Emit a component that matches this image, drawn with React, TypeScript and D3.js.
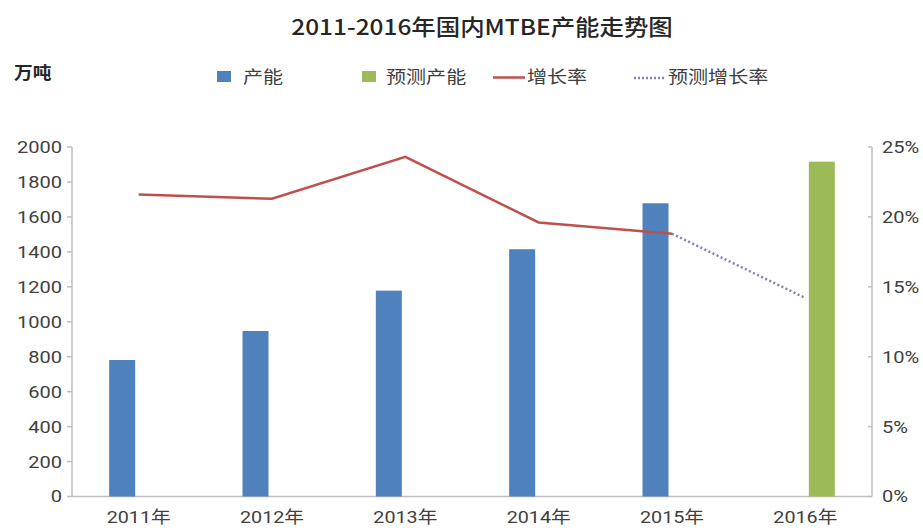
import React from "react";
import * as d3 from "d3";

const years = ["2011年", "2012年", "2013年", "2014年", "2015年", "2016年"];
const capacity: (number | null)[] = [781, 947, 1178, 1415, 1678, null];
const forecastCapacity: (number | null)[] = [null, null, null, null, null, 1916];
const growth: (number | null)[] = [21.6, 21.3, 24.3, 19.6, 18.8, null];
const forecastGrowth: (number | null)[] = [null, null, null, null, 18.8, 14.2];
const leftTicks = [0, 200, 400, 600, 800, 1000, 1200, 1400, 1600, 1800, 2000];
const rightTicks = [0, 5, 10, 15, 20, 25];

const W = 923;
const H = 528;
const M = { left: 72, right: 872, top: 147, bottom: 496.5 };
const FONT = "Roboto, 'Noto Sans CJK SC', 'Noto Sans', sans-serif";
const CJK = "'Noto Sans CJK SC', sans-serif";
const TXT = "#404040";
const SX = 1.18;

function T(props: {
  x: number;
  y: number;
  anchor?: "start" | "middle" | "end";
  size: number;
  fill?: string;
  weight?: number;
  family?: string;
  sx?: number;
  dy?: string;
  children: React.ReactNode;
}) {
  const s = props.sx ?? SX;
  return (
    <g transform={`translate(${props.x},${props.y}) scale(${s},1)`}>
      <text
        x={0}
        y={0}
        dy={props.dy}
        textAnchor={props.anchor ?? "start"}
        fontSize={props.size}
        fill={props.fill ?? TXT}
        fontWeight={props.weight ?? 400}
        fontFamily={props.family ?? FONT}
      >
        {props.children}
      </text>
    </g>
  );
}

export default function App() {
  const x = d3.scaleBand<string>().domain(years).range([M.left, M.right]);
  const sub = d3.scaleBand<string>().domain(["a", "b"]).range([-33, 33]);
  const yL = d3.scaleLinear().domain([0, 2000]).range([M.bottom, M.top]);
  const yR = d3.scaleLinear().domain([0, 25]).range([M.bottom, M.top]);
  const cx = (d: string) => (x(d) as number) + x.bandwidth() / 2;
  const bw = 26;
  const subC = (k: string) => (sub(k) as number) + sub.bandwidth() / 2;

  const line = d3
    .line<[string, number | null]>()
    .defined((d) => d[1] != null)
    .x((d) => cx(d[0]))
    .y((d) => yR(d[1] as number));

  const gPairs = years.map((y, i) => [y, growth[i]] as [string, number | null]);
  const fPairs = years.map((y, i) => [y, forecastGrowth[i]] as [string, number | null]);

  return (
    <svg width={W} height={H} style={{ position: "absolute", left: 0, top: 0, background: "#fff" }} fontFamily={FONT}>
      <rect width={W} height={H} fill="#fff" />
      <T x={482} y={35} anchor="middle" size={22} fill="#262626" family={CJK} weight={500} sx={1.11}>
        2011-2016年国内MTBE产能走势图
      </T>
      <T x={14} y={79} size={17} weight={700} fill="#262626" family={CJK} sx={1.1}>
        万吨
      </T>
      {/* legend */}
      <rect x={217} y={71} width={14} height={11} fill="#4f81bd" />
      <T x={243} y={83} size={17} family={CJK}>产能</T>
      <rect x={362} y={71} width={14} height={11} fill="#9bbb59" />
      <T x={386} y={83} size={17} family={CJK}>预测产能</T>
      <line x1={493} x2={525} y1={77.5} y2={77.5} stroke="#c0504d" strokeWidth={2.5} />
      <T x={527} y={83} size={17} family={CJK}>增长率</T>
      <line x1={634} x2={666} y1={78} y2={78} stroke="#7f7fbf" strokeWidth={2.5} strokeDasharray="2,2" />
      <T x={668} y={83} size={17} family={CJK}>预测增长率</T>
      {/* axes */}
      <line x1={M.left} x2={M.left} y1={M.top} y2={M.bottom} stroke="#bfbfbf" strokeWidth={1.5} />
      <line x1={M.right} x2={M.right} y1={M.top} y2={M.bottom} stroke="#bfbfbf" strokeWidth={1.5} />
      <line x1={M.left} x2={M.right} y1={M.bottom} y2={M.bottom} stroke="#bfbfbf" strokeWidth={1.5} />
      {leftTicks.map((t) => (
        <g key={"l" + t}>
          <line x1={M.left - 5} x2={M.left} y1={yL(t)} y2={yL(t)} stroke="#bfbfbf" strokeWidth={1.5} />
          <T x={M.left - 10} y={yL(t)} dy="0.35em" anchor="end" size={17}>
            {t}
          </T>
        </g>
      ))}
      {rightTicks.map((t) => (
        <g key={"r" + t}>
          <line x1={M.right - 4} x2={M.right} y1={yR(t)} y2={yR(t)} stroke="#bfbfbf" strokeWidth={1.5} />
          <T x={M.right + 10} y={yR(t)} dy="0.35em" anchor="start" size={17}>
            {t}%
          </T>
        </g>
      ))}
      {years.map((y) => (
        <T key={"x" + y} x={cx(y)} y={523} anchor="middle" size={17} sx={1.16}>
          {y}
        </T>
      ))}
      {/* bars */}
      {years.map((y, i) =>
        capacity[i] != null ? (
          <rect
            key={"b" + y}
            x={cx(y) + subC("a") - bw / 2}
            y={yL(capacity[i] as number)}
            width={bw}
            height={M.bottom - yL(capacity[i] as number)}
            fill="#4f81bd"
          />
        ) : null
      )}
      {years.map((y, i) =>
        forecastCapacity[i] != null ? (
          <rect
            key={"f" + y}
            x={cx(y) + subC("b") - bw / 2}
            y={yL(forecastCapacity[i] as number)}
            width={bw}
            height={M.bottom - yL(forecastCapacity[i] as number)}
            fill="#9bbb59"
          />
        ) : null
      )}
      {/* lines */}
      <path d={line(gPairs) || ""} fill="none" stroke="#c0504d" strokeWidth={2.5} />
      <path d={line(fPairs) || ""} fill="none" stroke="#7f7fbf" strokeWidth={2.5} strokeDasharray="2,2.5" />
    </svg>
  );
}
